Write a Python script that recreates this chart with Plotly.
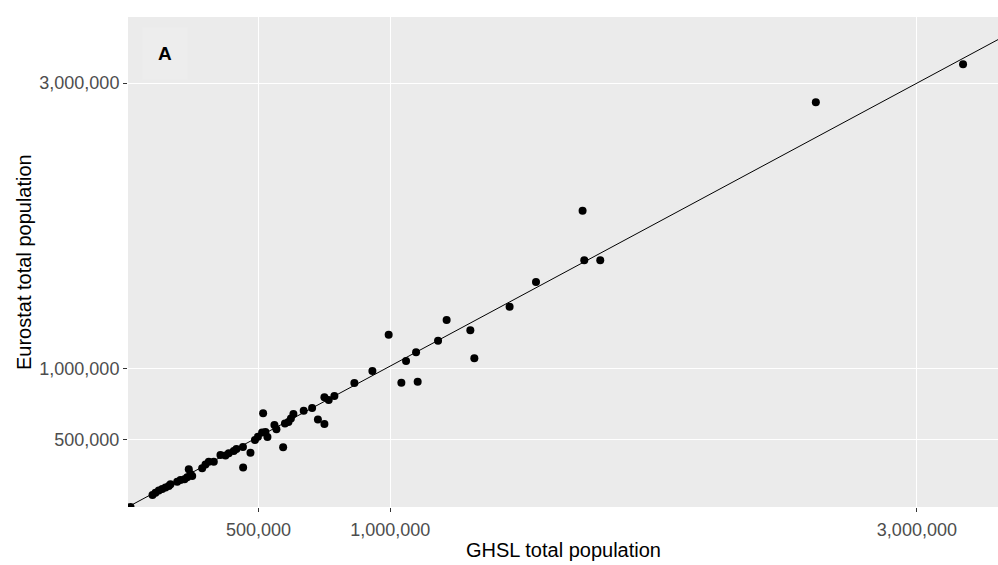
import plotly.graph_objects as go

# GHSL (x) vs Eurostat (y) total population
ghsl = [14000, 97500, 108900, 121400, 134300, 146900, 159400, 165800, 191300, 203800,
        219000, 229200, 235300, 241700, 248200, 286100, 298700, 311200, 330200, 355600,
        374600, 387100, 406100, 416300, 441000, 441700, 469500, 486500, 497900, 513800,
        517600, 526400, 534000, 560500, 568100, 593600, 600400, 613700, 623100, 632600,
        671700, 703600, 725600, 750300, 750300, 766600, 788200, 864100, 932500, 994300,
        1042500, 1060300, 1098300, 1104400, 1181800, 1214400, 1304400, 1319600, 1453500, 1553700,
        1730600, 1737000, 1797700, 2616300, 3175300]
eurostat = [28000, 112200, 128300, 143800, 154300, 164800, 175300, 187200, 205500, 217400,
            222300, 236300, 292400, 259500, 245400, 299400, 326100, 345700, 345700, 392700,
            389200, 404600, 420800, 434800, 448800, 305000, 408800, 497900, 521000, 550500,
            685100, 554000, 518900, 603100, 572900, 446700, 613600, 624100, 648700, 680200,
            703400, 722300, 641700, 610100, 797300, 778400, 806500, 897600, 981800, 1236300,
            899700, 1051900, 1112900, 906700, 1194200, 1339400, 1267200, 1070800, 1432700, 1605900,
            2105900, 1758100, 1758100, 2866100, 3132500]

# fitted line parameters
fit_intercept = 24000
fit_slope = 0.992

x_range = [4500, 3308000]
y_range = [28000, 3464000]

x_ticks = [500000, 1000000, 3000000]
y_ticks = [500000, 1000000, 3000000]
tick_text = ["500,000", "1,000,000", "3,000,000"]

line_x = [x_range[0] - 100000, x_range[1] + 100000]
line_y = [fit_intercept + fit_slope * v for v in line_x]

fig = go.Figure()
fig.add_trace(go.Scatter(x=line_x, y=line_y, mode="lines",
                         line=dict(color="black", width=1), hoverinfo="skip",
                         showlegend=False))
fig.add_trace(go.Scatter(x=ghsl, y=eurostat, mode="markers",
                         marker=dict(color="black", size=8, line=dict(width=0)),
                         showlegend=False, cliponaxis=True))

font_family = "Liberation Sans, Arial, sans-serif"
fig.update_layout(
    width=998, height=565,
    margin=dict(l=128, r=0, t=17, b=58),
    paper_bgcolor="white",
    plot_bgcolor="#EBEBEB",
    font=dict(family=font_family, color="#4D4D4D", size=18),
    xaxis=dict(range=x_range, tickvals=x_ticks, ticktext=tick_text,
               showgrid=True, gridcolor="white", gridwidth=1.3,
               zeroline=False, ticks="outside", ticklen=4, tickcolor="#333333",
               tickwidth=1, showline=False, ticklabelstandoff=2,
               tickfont=dict(size=18, color="#4D4D4D")),
    yaxis=dict(range=y_range, tickvals=y_ticks, ticktext=tick_text,
               showgrid=True, gridcolor="white", gridwidth=1.3,
               zeroline=False, ticks="outside", ticklen=4, tickcolor="#333333",
               tickwidth=1, showline=False,
               tickfont=dict(size=18, color="#4D4D4D")),
    annotations=[
        dict(text="GHSL total population", xref="paper", yref="paper",
             x=0.5, y=0, yshift=-43, xanchor="center", yanchor="middle",
             showarrow=False, font=dict(size=20, color="black", family=font_family)),
        dict(text="Eurostat total population", xref="paper", yref="paper",
             x=0, xshift=-104, y=0.5, xanchor="center", yanchor="middle",
             textangle=-90, showarrow=False,
             font=dict(size=20, color="black", family=font_family)),
        dict(text="<b>A</b>", xref="paper", yref="paper",
             x=0.0425, y=0.925, xanchor="center", yanchor="middle",
             showarrow=False, bgcolor="#EDEDED", borderpad=15,
             font=dict(size=19, color="black", family=font_family)),
    ],
)

fig.write_html("out.html")
